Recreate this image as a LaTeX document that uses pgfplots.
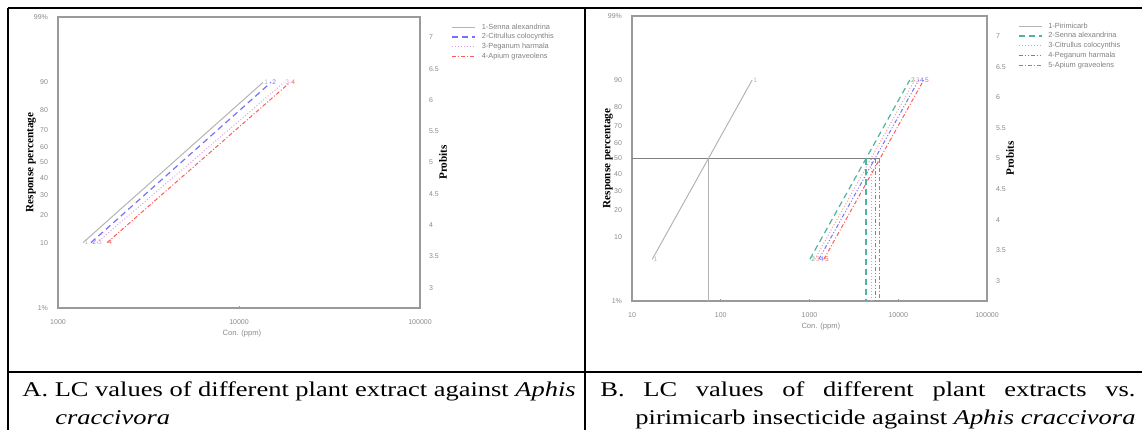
\documentclass[border=0pt]{standalone}
\usepackage{fontspec}
\setmainfont{Liberation Serif}
\newfontfamily\capfont[FakeStretch=1.12]{Liberation Serif}
\newfontfamily\tickfont{Liberation Sans}
\usepackage{pgfplots}
\pgfplotsset{compat=1.18}

\definecolor{axgray}{HTML}{9A9A9A}
\definecolor{tickgray}{HTML}{8A8A8A}
\definecolor{lgray}{HTML}{B4B4B4}
\definecolor{dgray}{HTML}{808080}
\definecolor{sblue}{HTML}{7272FF}
\definecolor{spurple}{HTML}{D6A2E6}
\definecolor{sred}{HTML}{FF5A5A}
\definecolor{steal}{HTML}{4FB3A3}
\definecolor{spink}{HTML}{F29A9A}

% probit scale: y is the probit, left labels are the percentages
\pgfplotsset{
  probit/.style={
    scale only axis,
    ymin=2.6737, ymax=7.3263,
    axis line style={axgray, line width=1pt},
    tick label style={font=\tickfont\fontsize{3.5}{4}\selectfont, text=tickgray},
    xticklabel style={yshift=-2.5pt},
    yticklabel style={xshift=-1.5pt},
    ytick={2.6737,3.7184,4.1584,4.4756,4.7467,5,5.2533,5.5244,5.8416,6.2816,7.3263},
    yticklabels={1\%,10,20,30,40,50,60,70,80,90,99\%},
    major tick length=1.2pt,
    xminorticks=false,
    xtick pos=left,
    xtick style={axgray, line width=0.5pt},
    ytick style={draw=none},
    ylabel={Response percentage},
    ylabel style={font=\bfseries\fontsize{5.6}{6}\selectfont, anchor=center},
    xlabel={Con. (ppm)},
    xlabel style={font=\tickfont\fontsize{3.8}{4}\selectfont, text=tickgray, anchor=center},
    legend cell align=left,
    legend style={draw=none, fill=none, anchor=north west,
      font=\tickfont\fontsize{3.7}{4}\selectfont, text=dgray,
      nodes={inner sep=0.6pt, text height=2.8pt, text depth=0.9pt}},
    legend image code/.code={\draw[#1] plot coordinates {(0pt,0pt) (11.5pt,0pt)};
      \path (14pt,0pt);},
    point meta=explicit symbolic,
    nodes near coords,
    nodes near coords align={anchor=west},
    every node near coord/.append style={font=\tickfont\fontsize{3.3}{4}\selectfont, inner sep=0.4pt},
  },
  probitright/.style={
    scale only axis,
    hide x axis,
    axis y line*=right,
    xmin=0, xmax=1,
    ymin=2.6737, ymax=7.3263,
    axis line style={axgray, line width=1pt},
    ytick={3,3.5,4,4.5,5,5.5,6,6.5,7},
    yticklabels={3,3.5,4,4.5,5,5.5,6,6.5,7},
    tick label style={font=\tickfont\fontsize{3.5}{4}\selectfont, text=tickgray},
    yticklabel style={xshift=1pt},
    ytick style={draw=none},
    ylabel={Probits},
    ylabel style={font=\bfseries\fontsize{5.6}{6}\selectfont, anchor=center},
  },
}

\begin{document}
\begin{tikzpicture}
\path[use as bounding box] (0pt,0pt) rectangle (571pt,-215pt);

% ---- panel A ----
\begin{axis}[probit, xmode=log,
  at={(29pt,-154pt)}, anchor=south west,
  width=181pt, height=145.5pt,
  xmin=1000, xmax=100000,
  xtick={1000,10000,100000}, xticklabels={1000,10000,100000},
  ylabel style={at={(axis description cs:-0.075,0.5)}},
  xlabel style={at={(axis description cs:0.508,-0.089)}},
  legend style={at={(1.069,0.997)}},
]
  \addplot[lgray, line width=0.5pt] coordinates {(1374,3.7184) [1] (13580,6.2816) [1]};
  \addlegendentry{1-Senna alexandrina}
  \addplot[sblue, line width=0.6pt, dash pattern=on 3pt off 2pt] coordinates {(1521,3.7184) [2] (15030,6.2816) [2]};
  \addlegendentry{2-Citrullus colocynthis}
  \addplot[spurple, line width=0.5pt, densely dotted] coordinates {(1641,3.7184) [3] (17740,6.2816) [3]};
  \addlegendentry{3-Peganum harmala}
  \addplot[sred, line width=0.5pt, dash pattern=on 2pt off 1pt on 0.5pt off 1pt] coordinates {(1866,3.7184) [4] (19140,6.2816) [4]};
  \addlegendentry{4-Apium graveolens}
\end{axis}
\begin{axis}[probitright,
  at={(29pt,-154pt)}, anchor=south west,
  width=181pt, height=145.5pt,
  ylabel style={at={(axis description cs:1.0635,0.5)}},
]
  \addplot[draw=none] coordinates {(0,5)};
\end{axis}

% ---- panel B ----
\begin{axis}[probit, xmode=log,
  at={(316pt,-150.5pt)}, anchor=south west,
  width=177.5pt, height=142.5pt,
  xmin=10, xmax=100000,
  xtick={10,100,1000,10000,100000}, xticklabels={10,100,1000,10000,100000},
  ylabel style={at={(axis description cs:-0.068,0.5)}},
  xlabel style={at={(axis description cs:0.532,-0.088)}},
  legend style={at={(1.069,0.997)}},
]
  \addplot[dgray, line width=0.5pt, forget plot] coordinates {(10,5) [] (6223,5) []};
  \addplot[lgray, line width=0.5pt] coordinates {(16.9,3.3551) [1] (225.9,6.2816) [1]};
  \addlegendentry{1-Pirimicarb}
  \addplot[steal, line width=0.6pt, dash pattern=on 3pt off 2pt] coordinates {(1010,3.3551) [2] (13490,6.2816) [2]};
  \addlegendentry{2-Senna alexandrina}
  \addplot[spink, line width=0.5pt, densely dotted] coordinates {(1149,3.3551) [3] (15340,6.2816) [3]};
  \addlegendentry{3-Citrullus colocynthis}
  \addplot[sblue, line width=0.5pt, dash pattern=on 2pt off 1pt on 0.5pt off 1pt on 0.5pt off 1pt] coordinates {(1275,3.3551) [4] (17020,6.2816) [4]};
  \addlegendentry{4-Peganum harmala}
  \addplot[sred, line width=0.5pt, dash pattern=on 2pt off 1pt on 0.5pt off 1pt] coordinates {(1450,3.3551) [5] (19360,6.2816) [5]};
  \addlegendentry{5-Apium graveolens}
  % LC50 drop lines
  \addplot[lgray, line width=0.5pt, forget plot] coordinates {(72.6,5) [] (72.6,2.6737) []};
  \addplot[steal, line width=0.6pt, dash pattern=on 3pt off 2pt, forget plot] coordinates {(4335,5) [] (4335,2.6737) []};
  \addplot[spink, line width=0.5pt, densely dotted, forget plot] coordinates {(4932,5) [] (4932,2.6737) []};
  \addplot[sblue, line width=0.5pt, dash pattern=on 2pt off 1pt on 0.5pt off 1pt on 0.5pt off 1pt, forget plot] coordinates {(5470,5) [] (5470,2.6737) []};
  \addplot[sred, line width=0.5pt, dash pattern=on 2pt off 1pt on 0.5pt off 1pt, forget plot] coordinates {(6223,5) [] (6223,2.6737) []};
\end{axis}
\begin{axis}[probitright,
  at={(316pt,-150.5pt)}, anchor=south west,
  width=177.5pt, height=142.5pt,
  ylabel style={at={(axis description cs:1.065,0.5)}},
]
  \addplot[draw=none] coordinates {(0,5)};
\end{axis}

% ---- table rules ----
\draw[line width=1pt] (4pt,-4pt) -- (571pt,-4pt);
\draw[line width=0.8pt] (4pt,-4pt) -- (4pt,-215pt);
\draw[line width=0.8pt] (292.5pt,-4pt) -- (292.5pt,-215pt);
\draw[line width=0.8pt] (4pt,-186pt) -- (571pt,-186pt);

% ---- captions ----
\tikzset{captxt/.style={anchor=base west, inner sep=0pt, font=\capfont\fontsize{10.5}{12}\selectfont}}
\node[captxt] at (11pt,-198pt) {\scalebox{1.126}[1]{A. LC values of different plant extract against \textit{Aphis}}};
\node[captxt] at (27.5pt,-212pt) {\scalebox{1.126}[1]{\textit{craccivora}}};
\node[captxt] at (300pt,-198pt) {\scalebox{1.126}[1]{\makebox[237.6pt][s]{B. LC values of different plant extracts vs.}}};
\node[captxt] at (317.5pt,-212pt) {\scalebox{1.126}[1]{pirimicarb insecticide against \textit{Aphis craccivora}}};
\end{tikzpicture}
\end{document}
